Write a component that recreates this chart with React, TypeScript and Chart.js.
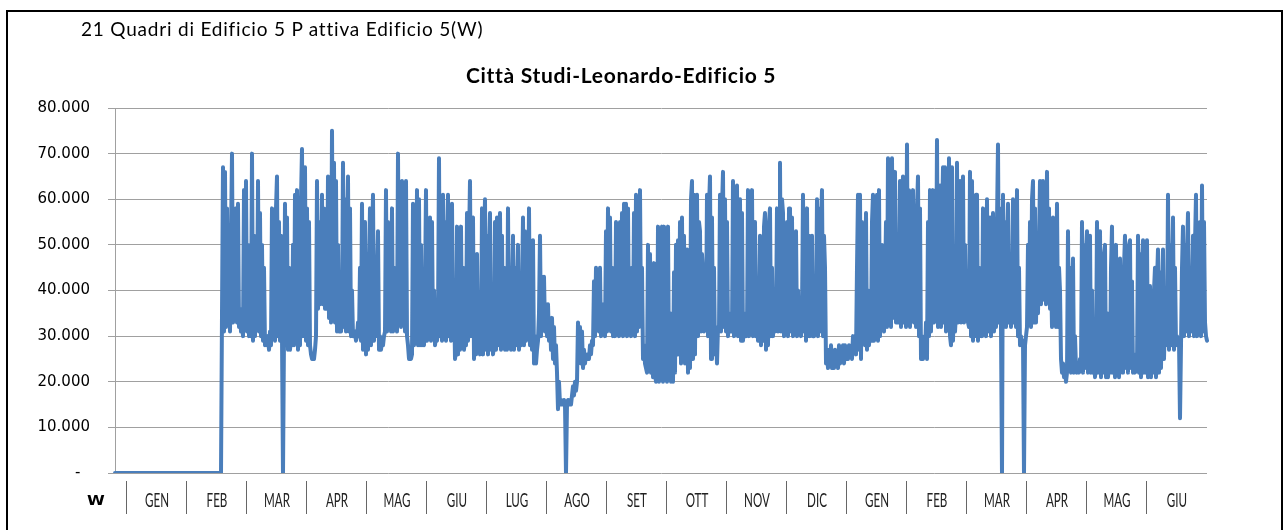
import React, { useEffect, useRef } from 'react';
import { Chart, registerables } from 'chart.js';

Chart.register(...registerables);

// Values in kW (thousands of W), one sample per half-day
const gen1 = [
  0, 0, 0, 0, 0, 0, 0, 0, 0, 0,
  0, 0, 0, 0, 0, 0, 0, 0, 0, 0,
  0, 0, 0, 0, 0, 0, 0, 0, 0, 0,
  0, 0, 0, 0, 0, 0, 0, 0, 0, 0,
  0, 0, 0, 0, 0, 0, 0, 0, 0, 0,
  0, 0, 0, 0, 0, 0, 0, 0, 0, 0,
  0,
];
const feb1 = [
  0, 0, 0, 0, 0, 0, 0, 0, 0, 0,
  0, 0, 0, 0, 0, 0, 0, 0, 0, 0,
  0, 0, 0, 0, 0, 0, 0, 0, 0, 0,
  0, 0, 0, 0, 0, 0, 0, 0, 0, 0,
  0, 0, 0, 0, 0, 0,
  35, 67, 31, 66, 32, 58, 33, 45, 31, 52, 70, 33, 55, 34, 58,
];
const mar1 = [
  33, 59, 32, 36, 31, 33, 30, 62, 33, 64,
  31, 50, 30, 45, 30, 70, 29, 52, 30, 48,
  33, 64, 31, 57, 30, 50, 29, 45, 28, 30,
  28, 30, 27, 31, 28, 58, 30, 55, 29, 58,
  65, 30, 55, 29, 52, 30, 0, 30, 59, 28,
  56, 27, 45, 27, 30, 28, 50, 28, 61, 30,
  62,
];
const apr1 = [
  27, 45, 28, 60, 71, 30, 58, 67, 29, 58,
  28, 55, 28, 26, 25, 26, 25, 27, 30, 64,
  36, 55, 37, 40, 61, 37, 58, 36, 55, 36,
  65, 34, 60, 33, 75, 35, 68, 33, 64, 31,
  50, 31, 38, 31, 34, 68, 32, 60, 31, 52,
  65, 31, 58, 30, 40, 30, 30, 31, 29, 30,
  33,
];
const mag1 = [
  30, 45, 29, 59, 27, 50, 55, 26, 48, 27,
  45, 58, 28, 50, 61, 29, 47, 30, 44, 53,
  27, 30, 27, 29, 28, 30, 31, 62, 31, 55,
  32, 50, 31, 58, 31, 45, 32, 35, 31, 70,
  33, 60, 32, 64, 33, 55, 31, 64, 30, 28,
  25, 27, 25, 26, 59, 28, 55, 29, 62, 28,
  60,
];
const giu1 = [
  28, 50, 28, 30, 28, 40, 62, 29, 50, 30,
  56, 29, 55, 30, 40, 28, 30, 29, 33, 69,
  30, 60, 29, 61, 30, 55, 29, 50, 61, 30,
  45, 29, 59, 30, 40, 25, 27, 54, 26, 50,
  27, 54, 28, 45, 27, 30, 28, 57, 29, 50,
  64, 30, 55, 56, 25, 45, 26, 48, 28, 35,
  26,
];
const lug1 = [
  27, 58, 26, 50, 60, 27, 52, 26, 48, 57,
  27, 40, 26, 28, 55, 27, 56, 28, 45, 57,
  27, 52, 28, 45, 27, 40, 27, 58, 28, 45,
  27, 40, 52, 27, 45, 28, 40, 50, 27, 35,
  28, 40, 56, 28, 53, 29, 45, 30, 58, 28,
  45, 27, 51, 24, 30, 24, 27, 29, 35, 52,
  30,
];
const ago1 = [
  43, 32, 43, 31, 37, 30, 37, 29, 34, 27,
  34, 25, 32, 24, 28, 22, 14, 20, 15, 16,
  15, 15, 16, 15, 0, 15, 16, 15, 16, 15,
  17, 19, 17, 20, 18, 20, 33, 27, 32, 24,
  31, 23, 27, 24, 26, 25, 26, 25, 28, 26,
  29, 28, 42, 30, 45, 33, 40, 31, 45, 30,
  37,
];
const set1 = [
  31, 37, 30, 53, 31, 58, 32, 56, 31, 45,
  30, 35, 30, 55, 31, 50, 30, 55, 31, 57,
  30, 59, 31, 59, 30, 58, 31, 35, 30, 45,
  31, 57, 30, 61, 31, 55, 32, 62, 33, 45,
  25, 28, 24, 23, 22, 50, 23, 48, 22, 40,
  21, 46, 22, 20, 21, 54, 20, 50, 22, 54,
  20,
];
const ott1 = [
  54, 21, 52, 20, 54, 21, 35, 20, 22, 20,
  44, 22, 50, 26, 51, 27, 55, 24, 56, 25,
  52, 24, 48, 49, 22, 45, 23, 60, 64, 25,
  61, 26, 58, 61, 30, 55, 53, 31, 48, 44,
  31, 40, 32, 61, 30, 58, 65, 25, 56, 27,
  45, 26, 30, 24, 32, 31, 61, 31, 58, 66,
  32,
];
const nov1 = [
  60, 31, 55, 30, 35, 31, 32, 31, 64, 30,
  58, 31, 63, 30, 55, 60, 29, 57, 29, 35,
  30, 33, 31, 62, 30, 58, 31, 62, 30, 50,
  55, 30, 40, 29, 35, 52, 28, 50, 29, 54,
  57, 27, 50, 28, 55, 58, 30, 45, 30, 35,
  31, 33, 58, 31, 55, 68, 31, 60, 57, 30,
  50,
];
const dic1 = [
  31, 55, 30, 58, 58, 31, 56, 30, 50, 31,
  53, 30, 40, 31, 33, 30, 35, 61, 31, 55,
  29, 58, 30, 52, 30, 45, 52, 30, 35, 31,
  33, 60, 30, 58, 31, 55, 62, 30, 52, 45,
  24, 27, 23, 27, 24, 28, 23, 26, 23, 27,
  24, 26, 23, 28, 24, 27, 25, 28, 24, 28,
  25,
];
const gen2 = [
  27, 25, 28, 26, 27, 25, 30, 28, 30, 26,
  45, 61, 27, 61, 25, 55, 30, 50, 28, 57,
  27, 40, 28, 33, 29, 55, 61, 29, 60, 30,
  61, 29, 62, 30, 50, 32, 35, 31, 40, 55,
  32, 69, 33, 60, 32, 69, 34, 58, 66, 33,
  50, 33, 45, 64, 32, 58, 65, 33, 60, 32,
  72,
];
const feb2 = [
  33, 62, 32, 55, 34, 62, 33, 55, 32, 58,
  65, 30, 58, 25, 30, 25, 27, 26, 33, 25,
  55, 30, 62, 31, 50, 62, 33, 55, 34, 73,
  32, 60, 63, 32, 55, 67, 33, 67, 31, 58,
  32, 69, 30, 28, 67, 29, 40, 31, 35, 68,
  33, 58, 64, 33, 55, 65, 33, 50, 35, 40,
  33,
];
const mar2 = [
  32, 66, 30, 64, 29, 60, 30, 61, 61, 29,
  45, 30, 33, 30, 58, 31, 55, 30, 60, 31,
  50, 56, 30, 45, 57, 31, 40, 32, 55, 72,
  33, 58, 32, 0, 61, 33, 55, 32, 50, 59,
  33, 45, 32, 40, 60, 33, 55, 32, 62, 30,
  45, 28, 30, 28, 29, 0, 28, 30, 32, 50,
  33,
];
const apr2 = [
  55, 32, 60, 64, 33, 58, 33, 45, 35, 50,
  64, 37, 55, 64, 38, 60, 37, 66, 38, 58,
  36, 45, 32, 56, 33, 50, 32, 59, 32, 45,
  40, 25, 22, 24, 21, 23, 20, 22, 53, 23,
  45, 22, 40, 47, 22, 30, 23, 22, 24, 22,
  25, 23, 55, 22, 50, 23, 48, 53, 22, 45,
  52,
];
const mag2 = [
  22, 40, 22, 30, 21, 24, 55, 22, 48, 53,
  21, 45, 22, 48, 50, 21, 35, 21, 24, 22,
  45, 54, 22, 48, 21, 50, 22, 40, 21, 47,
  22, 24, 22, 45, 52, 23, 46, 22, 50, 51,
  23, 42, 22, 26, 22, 24, 23, 52, 22, 48,
  21, 45, 51, 22, 48, 22, 51, 21, 35, 41,
  21,
];
const giu2 = [
  38, 22, 40, 45, 21, 42, 49, 22, 44, 23,
  40, 49, 25, 35, 28, 30, 61, 27, 50, 28,
  45, 56, 27, 45, 28, 30, 28, 29, 12, 28,
  45, 54, 30, 50, 31, 48, 57, 30, 45, 31,
  40, 52, 30, 50, 61, 30, 45, 31, 55, 30,
  63, 31, 55, 33, 30, 29,
];

const monthLabels = [
  'GEN', 'FEB', 'MAR', 'APR', 'MAG', 'GIU', 'LUG', 'AGO', 'SET',
  'OTT', 'NOV', 'DIC', 'GEN', 'FEB', 'MAR', 'APR', 'MAG', 'GIU',
];
const unitLabel = 'W';
const headerText = '21 Quadri di Edificio 5 P attiva Edificio 5(W)';
const chartTitle = 'Città Studi-Leonardo-Edificio 5';

const yMax = 80000;
const yStep = 10000;

const seriesKW = [
  ...gen1, ...feb1, ...mar1, ...apr1, ...mag1, ...giu1, ...lug1, ...ago1, ...set1,
  ...ott1, ...nov1, ...dic1, ...gen2, ...feb2, ...mar2, ...apr2, ...mag2, ...giu2,
];
const seriesW = seriesKW.map((v) => v * 1000);
const sampleLabels = seriesW.map((_, i) => String(i));

export default function App() {
  const canvasRef = useRef<HTMLCanvasElement | null>(null);

  useEffect(() => {
    if (!canvasRef.current) return;
    const chart = new Chart(canvasRef.current, {
      type: 'line',
      data: {
        labels: sampleLabels,
        datasets: [
          {
            data: seriesW,
            borderColor: '#4a7ebb',
            borderWidth: 4,
            pointRadius: 0,
            tension: 0,
            fill: false,
            borderJoinStyle: 'round',
            borderCapStyle: 'round',
          },
        ],
      },
      options: {
        animation: false,
        responsive: false,
        maintainAspectRatio: false,
        layout: { padding: { left: 0, right: 77, top: 108, bottom: 57 } },
        plugins: {
          legend: { display: false },
          tooltip: { enabled: false },
          title: { display: false },
        },
        scales: {
          x: { display: false },
          y: {
            min: 0,
            max: yMax,
            afterFit: (scale: any) => {
              scale.width = 115;
            },
            ticks: {
              stepSize: yStep,
              color: '#000',
              padding: 18,
              font: { family: 'DejaVu Sans', size: 15 },
              callback: (v: any) => (Number(v) === 0 ? '-  ' : `${Math.round(Number(v) / 1000)}.000`),
            },
            grid: { color: '#a0a0a0', lineWidth: 1, tickLength: 7 },
            border: { color: '#a0a0a0', width: 1 },
          },
        },
      },
    });
    return () => chart.destroy();
  }, []);

  return (
    <div
      style={{
        position: 'fixed',
        left: 0,
        top: 0,
        width: 1284,
        height: 530,
        overflow: 'hidden',
        background: '#fff',
      }}
    >
      <div
        style={{
          position: 'absolute',
          left: 6,
          top: 10,
          width: 1277,
          height: 600,
          border: '2px solid #000',
          boxSizing: 'border-box',
        }}
      />
      <canvas
        ref={canvasRef}
        width={1284}
        height={530}
        style={{ position: 'absolute', left: 0, top: 0, width: 1284, height: 530, display: 'block' }}
      />
      <div
        style={{
          position: 'absolute',
          left: 81,
          top: 19,
          fontFamily: 'Lato, sans-serif',
          fontSize: 19,
          lineHeight: '19px',
          letterSpacing: '0.8px',
          color: '#000',
          whiteSpace: 'nowrap',
        }}
      >
        {headerText}
      </div>
      <div
        style={{
          position: 'absolute',
          left: 621,
          top: 64,
          transform: 'translateX(-50%)',
          fontFamily: 'Lato, sans-serif',
          fontWeight: 700,
          fontSize: 21,
          lineHeight: '21px',
          letterSpacing: '0.7px',
          color: '#000',
          whiteSpace: 'nowrap',
        }}
      >
        {chartTitle}
      </div>
      <div
        style={{
          position: 'absolute',
          left: 66,
          top: 493,
          width: 60,
          textAlign: 'center',
          fontFamily: 'DejaVu Sans, sans-serif',
          fontWeight: 700,
          fontSize: 14,
          lineHeight: '14px',
          color: '#000',
          transform: 'scaleX(1.15)',
        }}
      >
        {unitLabel}
      </div>
      {monthLabels.map((m, i) => (
        <div
          key={i}
          style={{
            position: 'absolute',
            left: 126 + i * 60,
            top: 481,
            width: 60,
            height: 33,
            borderLeft: '1px solid #666',
            boxSizing: 'border-box',
          }}
        >
          <div
            style={{
              position: 'absolute',
              left: 0,
              top: 8,
              width: 60,
              textAlign: 'center',
              fontFamily: 'Lato, sans-serif',
              fontSize: 20,
              lineHeight: '20px',
              color: '#222',
              transform: 'scaleX(0.58)',
              whiteSpace: 'nowrap',
            }}
          >
            {m}
          </div>
        </div>
      ))}
    </div>
  );
}
